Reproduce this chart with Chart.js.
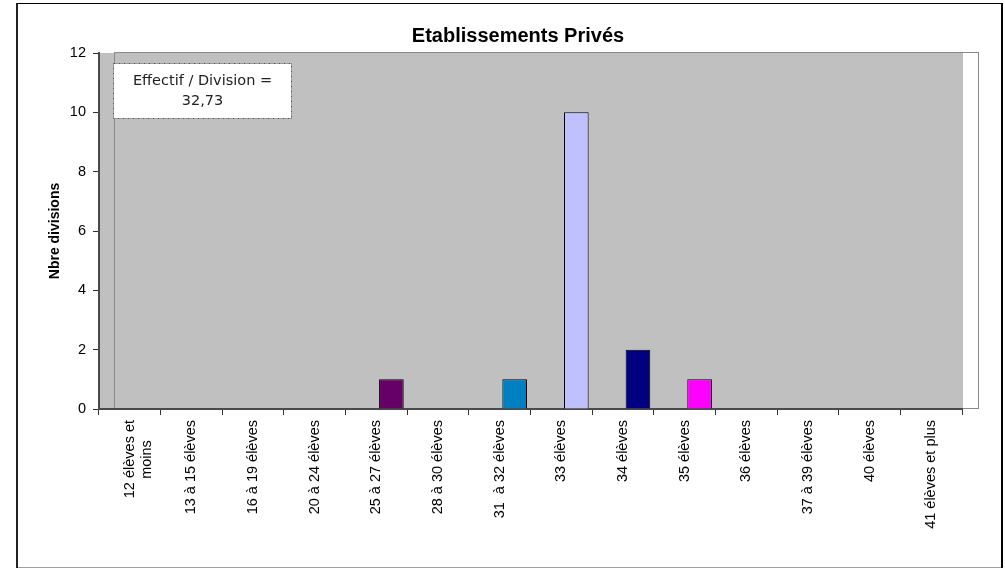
<!DOCTYPE html>
<html>
<head>
<meta charset="utf-8">
<script src="https://cdn.jsdelivr.net/npm/chart.js@4.4.0/dist/chart.umd.min.js"></script>
<style>
html,body{margin:0;padding:0;background:#fff;}
#wrap{width:1005px;height:569px;position:relative;}
</style>
</head>
<body>
<div id="wrap"><canvas id="c" width="1005" height="569"></canvas></div>
<script>
const chartTitle = 'Etablissements Privés';
const yAxisTitle = 'Nbre divisions';
const categories = ['12 élèves et moins', '13 à 15 élèves', '16 à 19 élèves', '20 à 24 élèves', '25 à 27 élèves', '28 à 30 élèves', '31  à 32 élèves', '33 élèves', '34 élèves', '35 élèves', '36 élèves', '37 à 39 élèves', '40 élèves', '41 élèves et plus'];
const tickLabels = [['12 élèves et', 'moins\u00a0\u00a0\u00a0\u00a0\u00a0'], '13 à 15 élèves', '16 à 19 élèves', '20 à 24 élèves', '25 à 27 élèves', '28 à 30 élèves', '31  à 32 élèves', '33 élèves', '34 élèves', '35 élèves', '36 élèves', '37 à 39 élèves', '40 élèves', '41 élèves et plus'];
const values = [0, 0, 0, 0, 1, 0, 1, 10, 2, 1, 0, 0, 0, 0];
const barColors = ['#9999FF', '#993366', '#FFFFCC', '#CCFFFF', '#660066', '#FF8080', '#0080C0', '#C0C0FF', '#000080', '#FF00FF', '#FFFF00', '#00FFFF', '#800080', '#800000'];
const yMin = 0, yMax = 12, yStep = 2;
const noteLines = ['Effectif / Division =', '32,73'];

const DEPTH = 15;

const decor = {
  id: 'decor',
  beforeDraw(chart) {
    const {ctx, chartArea: a} = chart;
    ctx.save();
    // outer frame
    ctx.fillStyle = '#fff';
    ctx.fillRect(0, 0, chart.width, chart.height);
    ctx.lineWidth = 1;
    ctx.strokeStyle = '#000';
    ctx.beginPath(); ctx.moveTo(16, 3.5); ctx.lineTo(1002, 3.5); ctx.stroke();
    ctx.strokeStyle = '#a0a0a0';
    ctx.beginPath(); ctx.moveTo(16, 567.5); ctx.lineTo(1002, 567.5); ctx.stroke();
    ctx.lineWidth = 2;
    ctx.strokeStyle = '#222';
    ctx.beginPath(); ctx.moveTo(17, 3); ctx.lineTo(17, 568); ctx.stroke();
    ctx.strokeStyle = '#000';
    ctx.beginPath(); ctx.moveTo(1002, 3); ctx.lineTo(1002, 568); ctx.stroke();
    // plot wall
    ctx.fillStyle = '#C0C0C0';
    ctx.fillRect(a.left, a.top, a.right - a.left + 1, a.bottom - a.top);
    ctx.lineWidth = 1;
    ctx.strokeStyle = '#8a8a8a';
    ctx.strokeRect(a.left + DEPTH + 0.5, a.top - 0.5, a.right - a.left + 1, a.bottom - a.top);
    ctx.restore();
  },
  beforeDatasetsDraw(chart) {
    chart.ctx.save();
    chart.ctx.translate(DEPTH, 0);
  },
  afterDatasetsDraw(chart) {
    chart.ctx.restore();
  },
  afterDraw(chart) {
    const {ctx, chartArea: a} = chart;
    ctx.save();
    // title
    ctx.fillStyle = '#000';
    ctx.font = 'bold 20px "Liberation Sans", Arial, sans-serif';
    ctx.textAlign = 'center';
    ctx.textBaseline = 'middle';
    ctx.fillText(chartTitle, 518, 36);
    // note box
    const bx = a.left + 14.5, by = 63.5, bw = 178, bh = 55;
    ctx.fillStyle = '#fff';
    ctx.fillRect(bx, by, bw, bh);
    ctx.setLineDash([2, 1, 1, 1]);
    ctx.strokeStyle = '#555';
    ctx.lineWidth = 1;
    ctx.strokeRect(bx, by, bw, bh);
    ctx.setLineDash([]);
    ctx.fillStyle = '#222';
    ctx.font = '14.5px "DejaVu Sans", Verdana, sans-serif';
    ctx.fillText(noteLines[0], bx + bw / 2, by + 18);
    ctx.fillText(noteLines[1], bx + bw / 2, by + 38);
    ctx.restore();
  }
};

Chart.defaults.color = '#000';
Chart.defaults.font.family = '"Liberation Sans", Arial, sans-serif';

new Chart(document.getElementById('c'), {
  type: 'bar',
  data: {
    labels: categories,
    datasets: [{
      data: values,
      backgroundColor: barColors,
      borderColor: '#000',
      borderWidth: (c) => (c.raw ? 1 : 0),
      categoryPercentage: 0.8,
      barPercentage: 0.5
    }]
  },
  options: {
    responsive: false,
    animation: false,
    layout: { padding: { top: 53, right: 43, left: 0, bottom: 0 } },
    plugins: { legend: { display: false }, title: { display: false }, tooltip: { enabled: false } },
    scales: {
      x: {
        offset: true,
        grid: { drawOnChartArea: false, drawTicks: true, tickLength: 6, offset: true, color: '#333', lineWidth: 1 },
        border: { color: '#4a4a4a', width: 2 },
        ticks: {
          autoSkip: false, maxRotation: 90, minRotation: 90, padding: 5,
          font: { size: 14.5 }, color: '#000',
          callback: (v, i) => tickLabels[i]
        },
        afterFit: (s) => { s.height = 160; }
      },
      y: {
        min: yMin, max: yMax,
        ticks: { stepSize: yStep, padding: 7, font: { size: 14.5 }, color: '#000' },
        grid: { drawOnChartArea: false, drawTicks: true, tickLength: 6, color: '#333' },
        border: { color: '#4a4a4a', width: 2 },
        title: { display: true, text: yAxisTitle, font: { size: 14, weight: 'bold' }, color: '#000', padding: { top: 47, bottom: 0 } },
        afterFit: (s) => { s.width = 99; }
      }
    }
  },
  plugins: [decor]
});
</script>
</body>
</html>
